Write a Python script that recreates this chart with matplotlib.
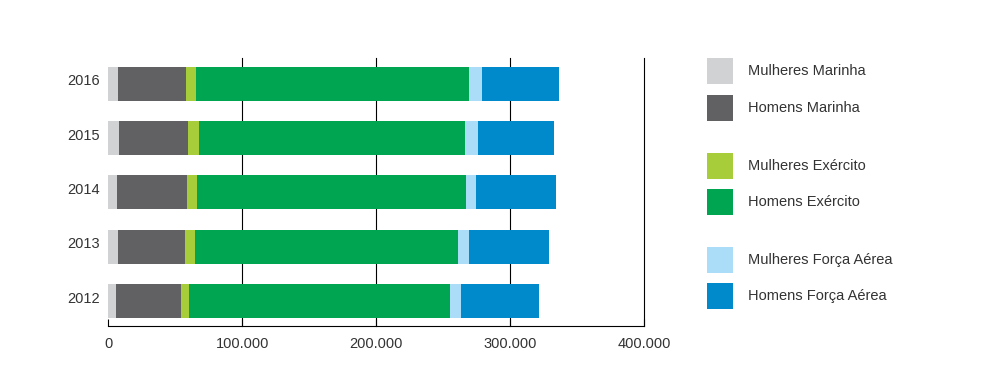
import matplotlib.pyplot as plt
import matplotlib.transforms as mtransforms
from matplotlib.patches import Rectangle

plt.rcParams["font.family"] = ["Liberation Sans", "DejaVu Sans"]

# Data (in persons)
years = ["2012", "2013", "2014", "2015", "2016"]
mulheres_marinha = [5700, 7200, 6500, 8000, 7200]
homens_marinha = [48500, 50000, 52200, 51500, 50700]
mulheres_exercito = [6000, 7500, 7500, 8200, 7500]
homens_exercito = [194800, 196300, 200700, 198500, 203700]
mulheres_fa = [8200, 8200, 7500, 9700, 9700]
homens_fa = [58200, 59700, 59700, 56700, 57500]

series = [
    ("Mulheres Marinha", mulheres_marinha, "#D1D2D4"),
    ("Homens Marinha", homens_marinha, "#616163"),
    ("Mulheres Exército", mulheres_exercito, "#A8CD3A"),
    ("Homens Exército", homens_exercito, "#00A551"),
    ("Mulheres Força Aérea", mulheres_fa, "#ACDDF8"),
    ("Homens Força Aérea", homens_fa, "#0089CB"),
]

xticks = [0, 100000, 200000, 300000, 400000]
xtick_labels = ["0", "100.000", "200.000", "300.000", "400.000"]

text_colour = "#333333"

fig = plt.figure(figsize=(9.88, 3.92), dpi=100)
ax = fig.add_axes([108.3 / 988, 66 / 392, 536 / 988, 268 / 392])

pos = list(range(len(years)))
left = [0] * len(years)
for name, vals, col in series:
    ax.barh(pos, vals, left=left, height=0.625, color=col, label=name, zorder=2)
    left = [l + v for l, v in zip(left, vals)]

ax.set_xlim(0, 400000)
ax.set_ylim(-0.454, 4.47)
ax.set_xticks(xticks)
ax.set_xticklabels(xtick_labels)
ax.set_yticks(pos)
ax.set_yticklabels(years)

for s in ["top", "right", "left"]:
    ax.spines[s].set_visible(False)
ax.spines["bottom"].set_color("black")
ax.spines["bottom"].set_linewidth(0.8)

ax.xaxis.grid(True, color="black", linewidth=0.8, zorder=0)
ax.set_axisbelow(True)
gridlines = ax.get_xgridlines()
gridlines[0].set_visible(False)  # no line at zero
for gl in gridlines:
    gl.set_clip_on(False)
ax.tick_params(axis="x", direction="in", length=5, width=0.8, color="black",
               pad=8, labelsize=10.5, labelcolor=text_colour)
ax.tick_params(axis="y", length=0, pad=6, labelsize=10.5, labelcolor=text_colour)

# year labels sit a little above the bar centres in the original
shift = mtransforms.ScaledTranslation(0, 4 / 100, fig.dpi_scale_trans)
for lab in ax.get_yticklabels():
    lab.set_transform(lab.get_transform() + shift)

# Legend drawn by hand, grouped in pairs (pixel positions from top of figure)
legend_tops = [58, 95, 153, 189, 247, 283]
W, H = 988, 392
for (name, vals, col), top in zip(series, legend_tops):
    fig.add_artist(Rectangle((707 / W, 1 - (top + 26) / H), 26 / W, 26 / H,
                             transform=fig.transFigure, color=col, lw=0))
    fig.text(748 / W, 1 - (top + 13) / H, name, fontsize=10.5,
             color=text_colour, va="center", ha="left")

fig.savefig("out.png", dpi=100)
